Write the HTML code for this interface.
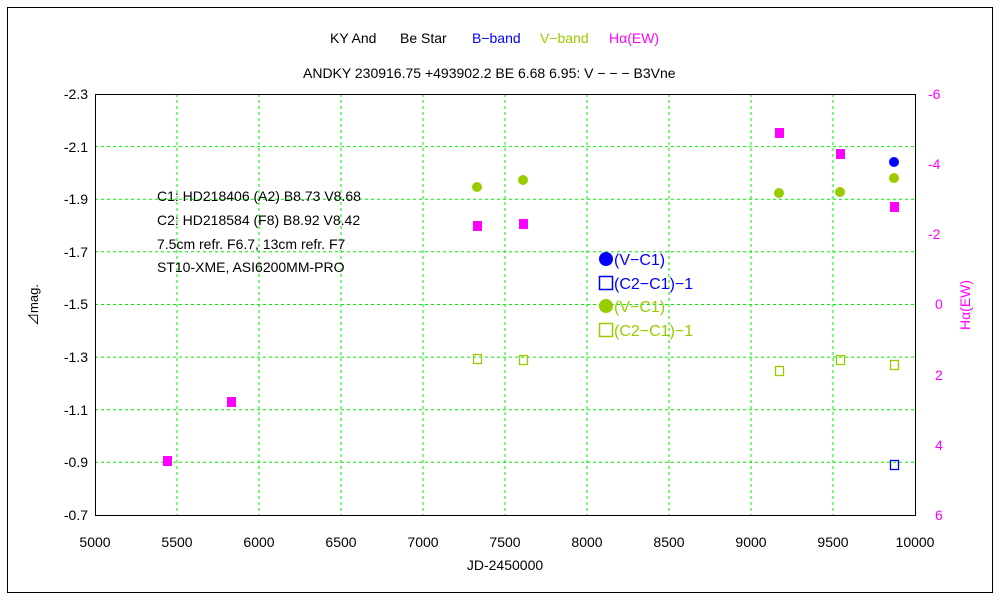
<!DOCTYPE html>
<html><head><meta charset="utf-8"><style>
body{margin:0;background:#fff;}
svg text{font-family:"Liberation Sans","Noto Sans CJK JP",sans-serif;}
</style></head><body>
<svg width="1000" height="600" xmlns="http://www.w3.org/2000/svg">
<rect x="0" y="0" width="1000" height="600" fill="#fff"/>
<rect x="7.5" y="7.5" width="985" height="585" fill="none" stroke="#000" stroke-width="1"/>
<g stroke="#00ee00" stroke-width="1" stroke-dasharray="3,3">
<line x1="177" y1="94" x2="177" y2="515"/><line x1="259" y1="94" x2="259" y2="515"/><line x1="341" y1="94" x2="341" y2="515"/><line x1="423" y1="94" x2="423" y2="515"/><line x1="505" y1="94" x2="505" y2="515"/><line x1="587" y1="94" x2="587" y2="515"/><line x1="669" y1="94" x2="669" y2="515"/><line x1="751" y1="94" x2="751" y2="515"/><line x1="833" y1="94" x2="833" y2="515"/>
<line x1="95" y1="146.6" x2="915" y2="146.6"/><line x1="95" y1="199.2" x2="915" y2="199.2"/><line x1="95" y1="251.8" x2="915" y2="251.8"/><line x1="95" y1="304.5" x2="915" y2="304.5"/><line x1="95" y1="357.1" x2="915" y2="357.1"/><line x1="95" y1="409.7" x2="915" y2="409.7"/><line x1="95" y1="462.3" x2="915" y2="462.3"/>
</g>
<rect x="95.5" y="94.5" width="820" height="421" fill="none" stroke="#000"/>
<g font-size="14" fill="#000">
<text x="330" y="43">KY And</text><text x="400" y="43">Be Star</text>
<text x="472" y="43" fill="#0000ff">B−band</text><text x="540" y="43" fill="#99cc00">V−band</text><text x="609" y="43" fill="#ff00ff">Hα(EW)</text>
<text x="303" y="78">ANDKY 230916.75 +493902.2 BE 6.68 6.95: V − − − B3Vne</text>
</g>
<g font-size="14" text-anchor="end">
<text x="88" y="99">-2.3</text><text x="88" y="152">-2.1</text><text x="88" y="204">-1.9</text><text x="88" y="257">-1.7</text><text x="88" y="309">-1.5</text><text x="88" y="362">-1.3</text><text x="88" y="415">-1.1</text><text x="88" y="467">-0.9</text><text x="88" y="520">-0.7</text>
</g>
<g font-size="14" fill="#ff00ff">
<text x="928" y="99">-6</text><text x="928" y="169">-4</text><text x="928" y="239">-2</text><text x="935" y="309">0</text><text x="935" y="380">2</text><text x="935" y="450">4</text><text x="935" y="520">6</text>
<text transform="translate(970,305) rotate(-90)" text-anchor="middle">Hα(EW)</text>
</g>
<g font-size="14" text-anchor="middle">
<text x="95" y="547">5000</text><text x="177" y="547">5500</text><text x="259" y="547">6000</text><text x="341" y="547">6500</text><text x="423" y="547">7000</text><text x="505" y="547">7500</text><text x="587" y="547">8000</text><text x="669" y="547">8500</text><text x="751" y="547">9000</text><text x="833" y="547">9500</text><text x="915" y="547">10000</text>
<text x="505" y="570">JD-2450000</text>
<text transform="translate(38,305) rotate(-90)" font-size="13">⊿mag.</text>
</g>
<g font-size="14">
<text x="157" y="201">C1: HD218406 (A2)  B8.73 V8.68</text>
<text x="157" y="225">C2: HD218584 (F8)  B8.92 V8.42</text>
<text x="157" y="249">7.5cm refr. F6.7,  13cm refr. F7</text>
<text x="157" y="272">ST10-XME,  ASI6200MM-PRO</text>
</g>
<g font-size="16">
<circle cx="606" cy="259" r="7" fill="#0000ff"/><text x="614" y="265" fill="#0000ff">(V−C1)</text>
<rect x="599.5" y="276.5" width="13" height="13" fill="none" stroke="#0000ff" stroke-width="1.5"/><text x="614" y="289" fill="#0000ff">(C2−C1)−1</text>
<circle cx="606" cy="306" r="7" fill="#99cc00"/><text x="614" y="312" fill="#99cc00">(V−C1)</text>
<rect x="599.5" y="323.5" width="13" height="13" fill="none" stroke="#99cc00" stroke-width="1.5"/><text x="614" y="336" fill="#99cc00">(C2−C1)−1</text>
</g>
<g fill="#ff00ff">
<rect x="163" y="456" width="9" height="10"/><rect x="227" y="397" width="9" height="10"/><rect x="473" y="221" width="9" height="10"/><rect x="519" y="219" width="9" height="10"/><rect x="775" y="128" width="9" height="10"/><rect x="836" y="149" width="9" height="10"/><rect x="890" y="202" width="9" height="10"/>
</g>
<g fill="#99cc00">
<circle cx="477" cy="187" r="5"/><circle cx="523" cy="180" r="5"/><circle cx="779" cy="193" r="5"/><circle cx="840" cy="192" r="5"/><circle cx="894" cy="178" r="5"/>
</g>
<circle cx="894" cy="162" r="5" fill="#0000ff"/>
<g fill="none" stroke="#99cc00" stroke-width="1.3">
<rect x="473.5" y="354.5" width="8" height="9"/><rect x="519.5" y="355.5" width="8" height="9"/><rect x="775.5" y="366.5" width="8" height="9"/><rect x="836.5" y="355.5" width="8" height="9"/><rect x="890.5" y="360.5" width="8" height="9"/>
</g>
<rect x="890.5" y="460.5" width="8" height="9" fill="none" stroke="#0000ff" stroke-width="1.3"/>
</svg>
</body></html>
